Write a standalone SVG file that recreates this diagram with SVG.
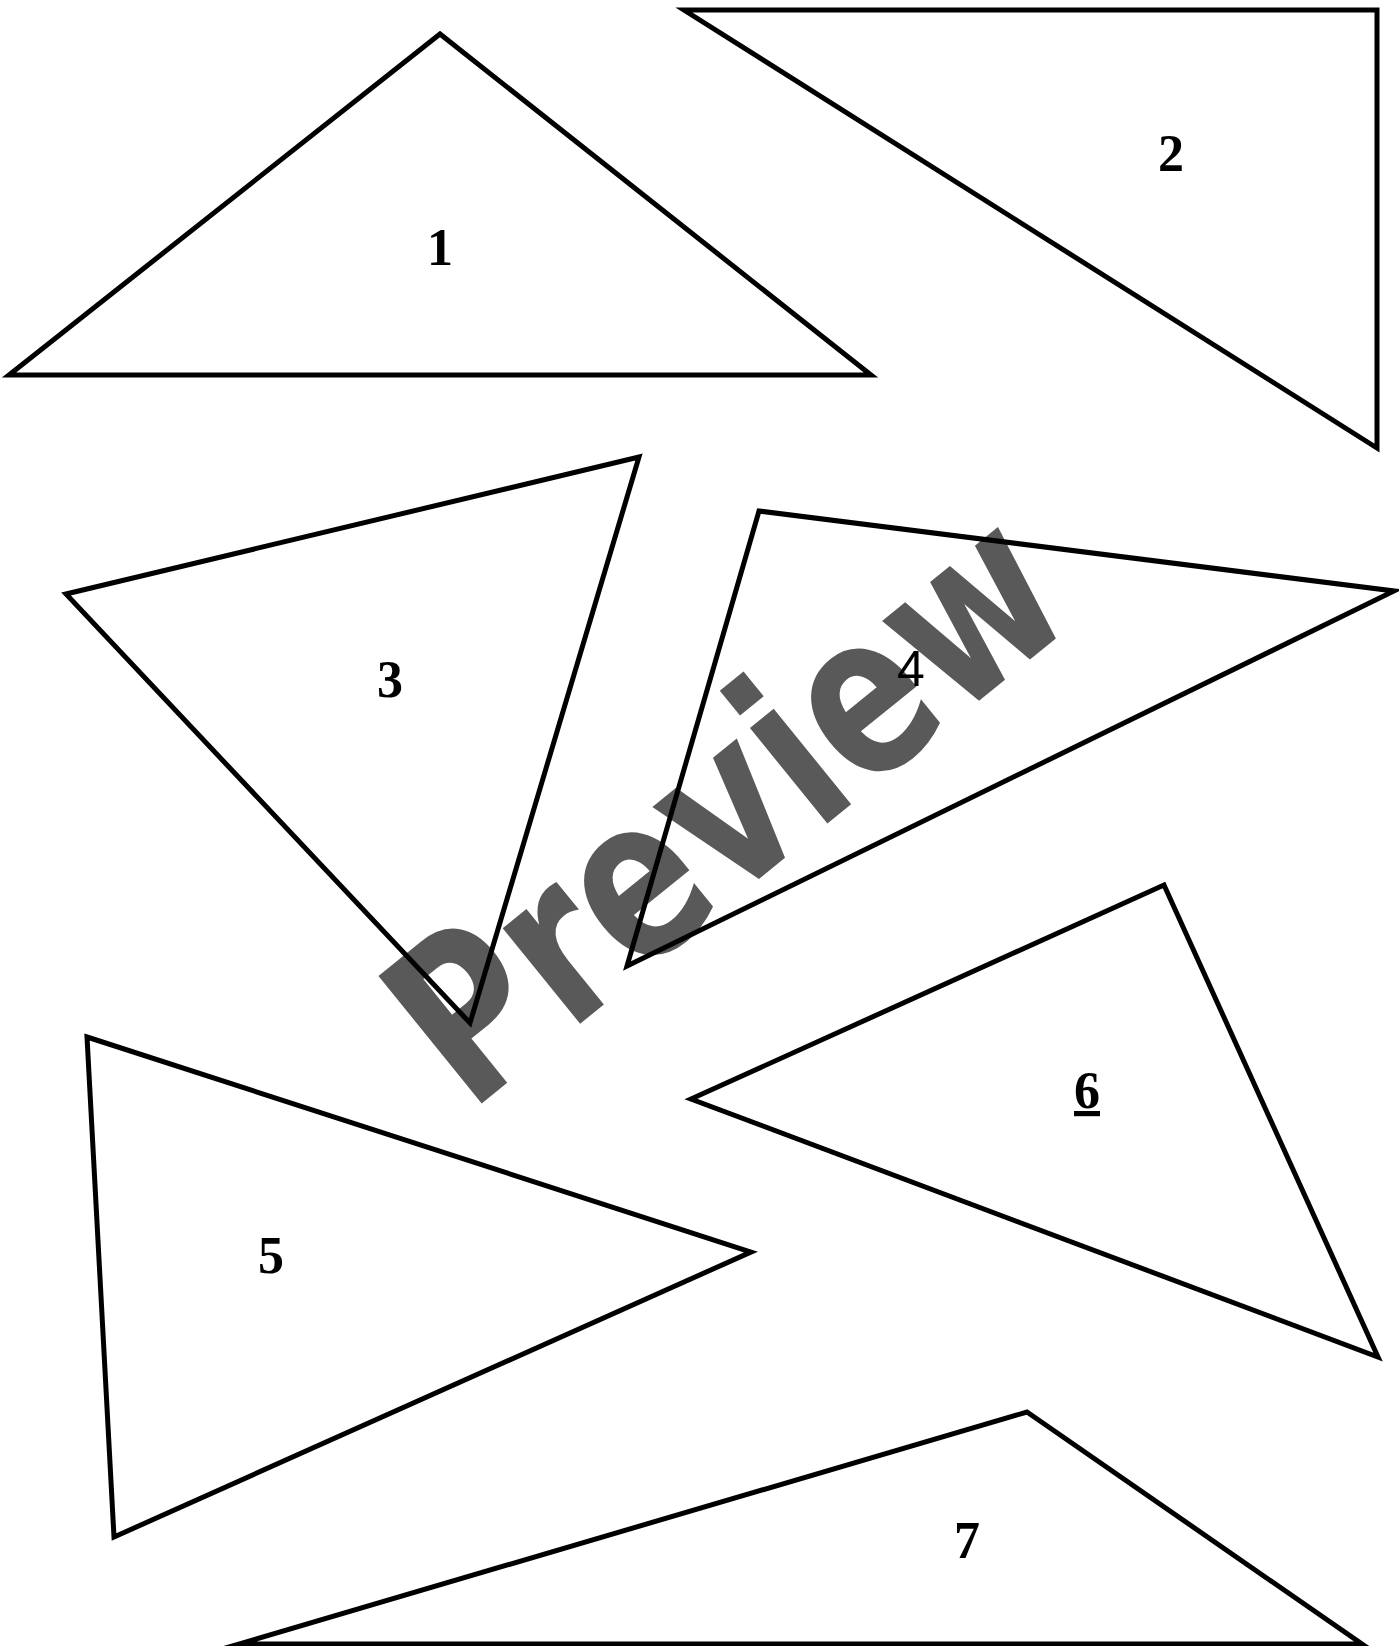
<svg xmlns="http://www.w3.org/2000/svg" width="1399" height="1646" viewBox="0 0 1399 1646">
<style>
.tri{fill:none;stroke:#000;stroke-width:5;stroke-linejoin:miter;stroke-miterlimit:10}
.lbl{font-family:"Liberation Serif","Times New Roman",serif;font-weight:bold;font-size:52px;fill:#000;text-anchor:middle}
.lbls{font-family:"Liberation Sans",Arial,sans-serif;font-size:50px;fill:#000;text-anchor:middle}
.wm{font-family:"DejaVu Sans","Liberation Sans",sans-serif;font-weight:bold;font-size:194px;fill:#595959;text-anchor:middle}
</style>
<rect width="1399" height="1646" fill="#fff"/>
<g id="watermark">
<text class="wm" transform="translate(725,805) rotate(-39) scale(0.9,1.16)" x="0" y="68">Preview</text>
</g>
<g id="t1"><polygon class="tri" points="440,34 9,375 871,375"/><text class="lbl" x="440" y="265">1</text></g>
<g id="t2"><polygon class="tri" points="684,10 1377,10 1377,448"/><text class="lbl" x="1171" y="171">2</text></g>
<g id="t3"><polygon class="tri" points="66,594 639,457 470,1023"/><text class="lbl" x="390" y="697">3</text></g>
<g id="t4"><polygon class="tri" points="759,511 1394,591 627,966"/><text class="lbls" x="911" y="686">4</text></g>
<g id="t5"><polygon class="tri" points="87,1037 751,1252 114,1537"/><text class="lbl" x="271" y="1273">5</text></g>
<g id="t6"><polygon class="tri" points="1164,885 1378,1357 691,1099"/><text class="lbl" x="1087" y="1108" text-decoration="underline">6</text></g>
<g id="t7"><polygon class="tri" points="1027,1412 1362,1644 239,1644"/><text class="lbl" x="967" y="1558">7</text></g>
</svg>
